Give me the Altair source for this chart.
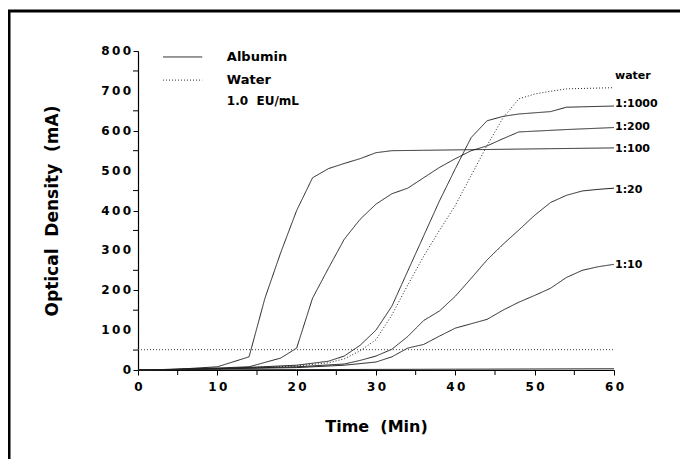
import altair as alt
import pandas as pd

# ---------------- data ----------------
s100_t = [0, 5, 10, 14, 16, 18, 20, 22, 24, 26, 28, 30, 32, 36, 40, 44, 48, 52, 56, 60]
s100_v = [0, 2, 8, 33, 180, 295, 400, 482, 505, 518, 530, 545, 550, 551, 552, 553, 554, 555, 556, 557]

s200_t = [0, 5, 10, 14, 18, 20, 22, 24, 26, 28, 30, 32, 34, 36, 38, 40, 42, 44, 46, 48, 50, 54, 60]
s200_v = [0, 2, 5, 8, 30, 55, 180, 255, 328, 378, 416, 442, 456, 482, 508, 530, 550, 562, 580, 597, 599, 603, 608]

s1000_t = [0, 10, 20, 24, 26, 28, 30, 32, 34, 36, 38, 40, 42, 44, 46, 48, 50, 52, 54, 56, 60]
s1000_v = [0, 3, 12, 22, 35, 62, 100, 160, 248, 336, 424, 505, 583, 625, 636, 642, 645, 648, 659, 660, 662]

water_t = [0, 10, 20, 24, 26, 28, 30, 32, 34, 36, 38, 40, 42, 44, 46, 48, 50, 52, 54, 56, 60]
water_v = [0, 3, 10, 18, 28, 48, 76, 138, 213, 285, 350, 413, 488, 563, 632, 680, 692, 699, 705, 706, 708]

s20_t = [0, 10, 20, 26, 28, 30, 32, 34, 36, 38, 40, 42, 44, 46, 48, 50, 52, 54, 56, 58, 60]
s20_v = [0, 3, 8, 15, 24, 35, 52, 84, 124, 148, 185, 230, 276, 315, 351, 388, 420, 438, 449, 453, 456]

s10_t = [0, 10, 20, 26, 30, 32, 34, 36, 38, 40, 42, 44, 46, 48, 50, 52, 54, 56, 58, 60]
s10_v = [0, 3, 6, 12, 20, 33, 55, 64, 85, 105, 116, 127, 150, 170, 187, 205, 232, 250, 259, 265]

blank_t = [0, 20, 40, 60]
blank_v = [0, 1, 2, 3]

threshold_v = [51]

y_major = [0, 100, 200, 300, 400, 500, 600, 700, 800]
y_minor = [50, 150, 250, 350, 450, 550, 650, 750]
x_major = [0, 10, 20, 30, 40, 50, 60]
x_minor = [5, 15, 25, 35, 45, 55]

end_labels = ["water", "1:1000", "1:200", "1:100", "1:20", "1:10"]
end_label_v = [737, 667, 609, 554, 451, 263]

legend_names = ["Albumin", "Water"]
legend_styles = ["solid", "dot"]
legend_v = [785, 727]
legend_note = "1.0\u00a0 EU/mL"
legend_note_v = [675]

# ---------------- tables ----------------
rows = []
for name, style, ts, vs in [
    ("1:100", "solid", s100_t, s100_v),
    ("1:200", "solid", s200_t, s200_v),
    ("1:1000", "solid", s1000_t, s1000_v),
    ("water", "dot", water_t, water_v),
    ("1:20", "solid", s20_t, s20_v),
    ("1:10", "solid", s10_t, s10_v),
    ("blank", "solid", blank_t, blank_v),
]:
    for t, v in zip(ts, vs):
        rows.append({"t": t, "v": v, "series": name, "style": style})
curves = pd.DataFrame(rows)

thr = pd.DataFrame({"t": [0], "t2": [60], "v": threshold_v, "style": ["dot"]})
ends = pd.DataFrame({"t": [60] * len(end_labels), "v": end_label_v, "label": end_labels})
leg = pd.DataFrame({"t": [3.15] * 2, "t2": [8.1] * 2, "tt": [11.2] * 2,
                    "v": legend_v, "name": legend_names, "style": legend_styles})
note = pd.DataFrame({"t": [11.2], "v": legend_note_v, "name": [legend_note]})
yminor = pd.DataFrame({"v": y_minor})
xminor = pd.DataFrame({"t": x_minor})
ylab = pd.DataFrame({"v": y_major, "lab": ["\u2009".join(str(v)) for v in y_major]})
dummy = pd.DataFrame({"a": [0]})

FONT = "DejaVu Sans"
spaced = "join(split(datum.label, ''), '\u2009')"

xscale = alt.Scale(domain=[0, 60], nice=False)
yscale = alt.Scale(domain=[0, 800], nice=False)
dash = alt.Scale(domain=["solid", "dot"], range=[[1, 0], [1, 2]])

xaxis = alt.Axis(values=x_major, labelExpr=spaced,
                 labelOverlap=False, labelFlush=False, tickSize=5, labelPadding=6,
                 titlePadding=26, titleFontSize=16, labelFontSize=12,
                 labelFontWeight="bold", titleFontWeight="bold", grid=False)
yaxis = alt.Axis(values=y_major, labels=False, tickSize=5,
                 titlePadding=71, titleFontSize=17,
                 titleFontWeight="bold", grid=False)

XT = "Time\u00a0 (Min)"
YT = "Optical\u00a0 Density\u00a0 (mA)"

lines = alt.Chart(curves).mark_line(color="#222", strokeWidth=1).encode(
    x=alt.X("t:Q", scale=xscale, axis=xaxis, title=XT),
    y=alt.Y("v:Q", scale=yscale, axis=yaxis, title=YT),
    strokeDash=alt.StrokeDash("style:N", scale=dash, legend=None),
    detail="series:N",
)

thr_rule = alt.Chart(thr).mark_rule(color="#444", strokeWidth=1).encode(
    x=alt.X("t:Q", title=XT), x2="t2:Q", y=alt.Y("v:Q", title=YT),
    strokeDash=alt.StrokeDash("style:N", scale=dash, legend=None),
)

# minor ticks (outside the plot, like the axis ticks)
ymin_ticks = alt.Chart(yminor).mark_rule(color="black", strokeWidth=1).encode(
    y=alt.Y("v:Q", title=YT), x=alt.value(-5), x2=alt.value(0))
xmin_ticks = alt.Chart(xminor).mark_rule(color="black", strokeWidth=1).encode(
    x=alt.X("t:Q", title=XT), y=alt.value(319), y2=alt.value(324))

# y tick labels
ylab_text = alt.Chart(ylab).mark_text(align="right", baseline="middle", font=FONT,
                                      fontSize=12, fontWeight="bold", color="black").encode(
    y=alt.Y("v:Q", title=YT), x=alt.value(-7), text="lab:N")

end_text = alt.Chart(ends).mark_text(align="left", baseline="middle", dx=1,
                                     font=FONT, fontSize=11, fontWeight="bold",
                                     color="black").encode(
    x=alt.X("t:Q", title=XT), y=alt.Y("v:Q", title=YT), text="label:N")

leg_lines = alt.Chart(leg).mark_rule(color="#333", strokeWidth=1).encode(
    x=alt.X("t:Q", title=XT), x2="t2:Q", y=alt.Y("v:Q", title=YT),
    strokeDash=alt.StrokeDash("style:N", scale=dash, legend=None),
)
leg_text = alt.Chart(leg).mark_text(align="left", baseline="middle", font=FONT,
                                    fontSize=13, fontWeight="bold", color="black").encode(
    x=alt.X("tt:Q", title=XT), y=alt.Y("v:Q", title=YT), text="name:N")
note_text = alt.Chart(note).mark_text(align="left", baseline="middle", font=FONT,
                                      fontSize=12, fontWeight="bold", color="black").encode(
    x=alt.X("t:Q", title=XT), y=alt.Y("v:Q", title=YT), text="name:N")

frame_top = alt.Chart(dummy).mark_rule(color="black", strokeWidth=3).encode(
    x=alt.value(-130), x2=alt.value(560), y=alt.value(-40), y2=alt.value(-40))
frame_left = alt.Chart(dummy).mark_rule(color="black", strokeWidth=3).encode(
    x=alt.value(-129), x2=alt.value(-129), y=alt.value(-41), y2=alt.value(420))

chart = alt.layer(lines, thr_rule, ymin_ticks, xmin_ticks, ylab_text, end_text,
                  leg_lines, leg_text, note_text, frame_top, frame_left).properties(
    width=476, height=319, autosize="none",
    padding={"left": 130, "top": 43, "right": 66, "bottom": 89},
    background="white",
).configure_view(stroke=None).configure_axis(
    labelFont=FONT, titleFont=FONT, domainColor="black", tickColor="black",
    labelColor="black", titleColor="black", domainWidth=1.2, tickWidth=1,
)

chart.save("out.html", embed_options={"renderer": "svg", "actions": False})
